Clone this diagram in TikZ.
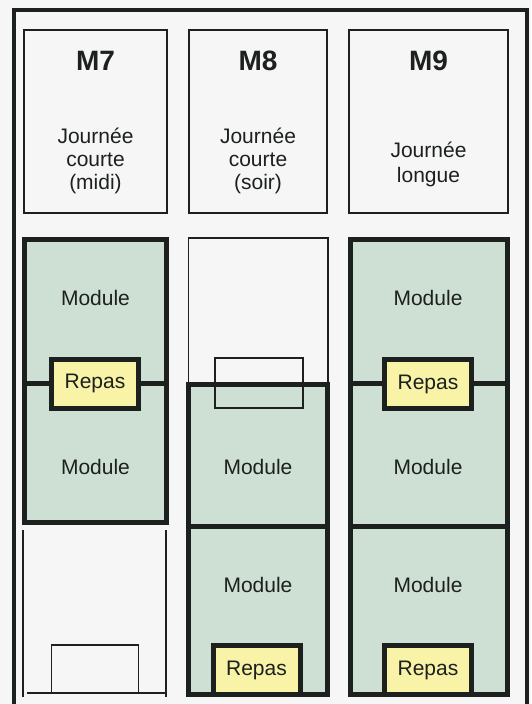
\documentclass[tikz,border=0pt]{standalone}
\usepackage{fontspec}
\setmainfont{Liberation Sans}
\definecolor{vert}{RGB}{206,224,212}
\definecolor{jaune}{RGB}{248,243,166}
\definecolor{trait}{RGB}{28,32,30}
\definecolor{papier}{RGB}{246,246,246}
\begin{document}
\begin{tikzpicture}[x=1pt, y=-1pt, color=trait, font=\fontsize{21}{23}\selectfont,
		titre/.style={font=\fontsize{28}{30}\selectfont\bfseries},
		bloc/.style={draw=trait, line width=5pt, fill=vert},
		repas/.style={draw=trait, line width=5pt, fill=jaune, minimum width=87pt, minimum height=49pt, inner sep=0pt},
		fin/.style={line width=1.5pt}]
			\useasboundingbox (0,0) rectangle (531,704);
			\fill[papier] (0,0) rectangle (531,704);
			\clip (0,0) rectangle (531,704);
			\draw[line width=4pt] (14,720) |- (527,9.5) -- (527,720);
			% en-tetes
			\foreach \nom/\x/\xa/\xb in {7/95.5/24/167, 8/258/189/327, 9/428.5/349/508} {
				\draw[fin] (\xa,30) rectangle (\xb,213);
				\node[titre] (t\nom) at (\x,61) {M\nom};
			}
			\node[align=center] (j7) at (95.5,161) {Journée\\courte\\(midi)};
			\node[align=center] (j8) at (258,161) {Journée\\courte\\(soir)};
			\node[align=center, font=\fontsize{21}{25}\selectfont] (j9) at (428.5,164) {Journée\\longue};
			% M7
			\draw[bloc] (24.5,239.5) rectangle (166.5,522.5);
			\draw[line width=5pt] (24.5,383) -- (166.5,383);
			\node (m7a) at (95.5,298) {Module};
			\node (m7b) at (95.5,467) {Module};
			\node[repas] (r7) at (95,383.5) {Repas};
			\draw[fin] (23,530) -- (23,697) (166,530) -- (166,697) (27,693) -- (166,693);
			\draw[fin] (51.5,693) |- (138.5,645) -- (138.5,693);
			% M8
			\draw[fin] (188.5,384) |- (328,238) -- (328,384);
			\draw[bloc] (188.5,384.5) rectangle (327.5,694.5);
			\draw[line width=5pt] (188.5,526) -- (327.5,526);
			\draw[fin] (215,358) rectangle (303,408);
			\node (m8a) at (258,467) {Module};
			\node (m8b) at (258,585) {Module};
			\node[repas] (r8) at (256.5,670) {Repas};
			% M9
			\draw[bloc] (350.5,239.5) rectangle (507.5,694.5);
			\draw[line width=5pt] (350.5,383) -- (507.5,383) (350.5,526) -- (507.5,526);
			\node (m9a) at (428,298) {Module};
			\node (m9b) at (428,467) {Module};
			\node (m9c) at (428,585) {Module};
			\node[repas] (r9a) at (428,384) {Repas};
			\node[repas] (r9b) at (428,670) {Repas};
		\end{tikzpicture}
\end{document}
